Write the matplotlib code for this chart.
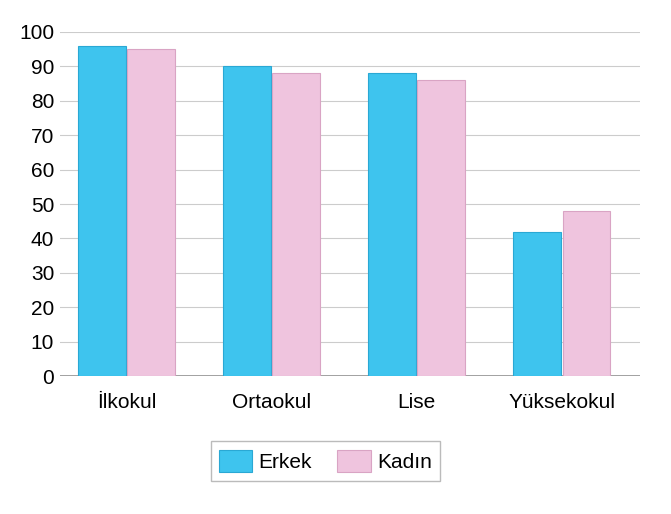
import numpy as np
import matplotlib.pyplot as plt

plt.rcParams['font.family'] = ['Liberation Sans', 'DejaVu Sans']

categories = ['İlkokul', 'Ortaokul', 'Lise', 'Yüksekokul']
erkek = [96, 90, 88, 42]
kadin = [95, 88, 86, 48]

fig = plt.figure(figsize=(6.71, 5.14), dpi=100)
ax = fig.add_axes([0.089, 0.268, 0.865, 0.67])

x = np.arange(len(categories))
w = 0.33
ax.bar(x - w / 2 - 0.005, erkek, w, color='#3ec4ee', edgecolor='#2aa8d4', linewidth=0.8, label='Erkek', zorder=3)
ax.bar(x + w / 2 + 0.005, kadin, w, color='#efc4de', edgecolor='#d9a4c4', linewidth=0.8, label='Kadın', zorder=3)

ax.set_ylim(0, 100)
ax.set_xlim(-0.46, 3.54)
ax.set_yticks(range(0, 101, 10))
ax.grid(axis='y', color='#cccccc', linewidth=0.8, zorder=0)
for s in ax.spines.values():
    s.set_visible(False)
ax.axhline(0, color='#999999', linewidth=2, zorder=2)
ax.tick_params(axis='y', length=0, labelsize=15, pad=4)
ax.tick_params(axis='x', length=0, labelsize=15, pad=12)
ax.set_xticks(x)
ax.set_xticklabels(categories)

leg = fig.legend(loc='center', bbox_to_anchor=(0.485, 0.103), ncol=2, fontsize=15,
                 frameon=True, fancybox=False, edgecolor='#aaaaaa', handlelength=1.6,
                 handleheight=1.3, columnspacing=1.2, handletextpad=0.3)

fig.savefig('out.png', dpi=100)
